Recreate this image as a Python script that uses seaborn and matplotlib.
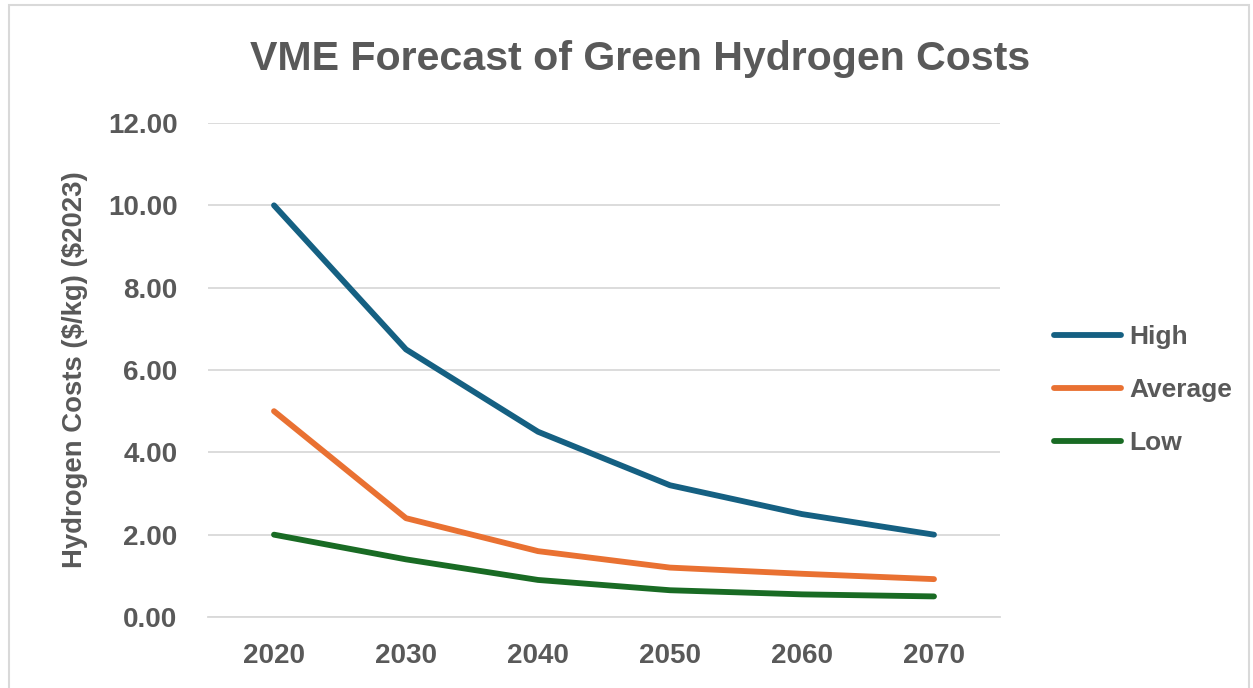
import matplotlib
matplotlib.use("Agg")
import matplotlib.pyplot as plt
from matplotlib.patches import Rectangle
from matplotlib.lines import Line2D
import seaborn as sns
import pandas as pd

years = [2020, 2030, 2040, 2050, 2060, 2070]
high = [10.0, 6.5, 4.5, 3.2, 2.5, 2.0]
average = [5.0, 2.4, 1.6, 1.2, 1.05, 0.92]
low = [2.0, 1.4, 0.9, 0.65, 0.55, 0.5]
series_names = ["High", "Average", "Low"]
y_ticks = [0, 2, 4, 6, 8, 10, 12]

colors = {"High": "#156082", "Average": "#E97132", "Low": "#196B24"}
text_color = "#595959"
grid_color = "#D9D9D9"
line_w = 4.2

df = pd.DataFrame({"Year": years, "High": high, "Average": average, "Low": low})
long_df = df.melt(id_vars="Year", var_name="Scenario", value_name="Cost")

sns.set_theme(style="white")
plt.rcParams["font.family"] = ["Liberation Sans", "DejaVu Sans"]
plt.rcParams["font.weight"] = "bold"

fig = plt.figure(figsize=(12.53, 6.88), dpi=100)
ax = fig.add_axes([208 / 1253, 1 - 617 / 688, (1000 - 208) / 1253, (617 - 123) / 688])

sns.lineplot(data=long_df, x="Year", y="Cost", hue="Scenario",
             hue_order=series_names, palette=colors, linewidth=line_w,
             ax=ax, legend=False, solid_capstyle="round", solid_joinstyle="round")

ax.set_xlim(2015, 2075)
ax.set_ylim(0, 12)
ax.set_xticks(years)
ax.set_xticklabels([str(y) for y in years])
ax.set_yticks(y_ticks)
ax.set_yticklabels([f"{v:.2f}" for v in y_ticks])
ax.tick_params(axis="both", length=0, labelsize=20, labelcolor=text_color)
ax.tick_params(axis="x", pad=19)
ax.tick_params(axis="y", pad=22)
for lab in ax.get_xticklabels() + ax.get_yticklabels():
    lab.set_fontweight("bold")

ax.grid(axis="y", color=grid_color, linewidth=1.3)
ax.set_axisbelow(True)
for side in ["top", "right", "left"]:
    ax.spines[side].set_visible(False)
ax.spines["bottom"].set_color(grid_color)
ax.spines["bottom"].set_linewidth(1.3)

ax.set_xlabel("")
ax.set_ylabel(r"Hydrogen Costs (\$/kg) (\$2023)", fontsize=19.8, color=text_color,
              fontweight="bold", labelpad=14)

fig.text(0.511, 1 - 59 / 688, "VME Forecast of Green Hydrogen Costs",
         ha="center", va="center", fontsize=29.6, fontweight="bold", color=text_color)

handles = [Line2D([0], [0], color=colors[n], linewidth=line_w, solid_capstyle="round")
           for n in series_names]
leg = fig.legend(handles, series_names, loc="upper left",
                 bbox_to_anchor=(1030 / 1253, 1 - 301 / 688), frameon=False,
                 fontsize=19, labelcolor=text_color, handlelength=2.55,
                 handletextpad=0.3, labelspacing=1.1)
for t in leg.get_texts():
    t.set_fontweight("bold")

fig.add_artist(Rectangle((9 / 1253, -0.01), 1240 / 1253, 1 - 5 / 688 + 0.01,
                         transform=fig.transFigure, fill=False,
                         edgecolor="#D9D9D9", linewidth=1.5))

fig.savefig("out.png", dpi=100)
